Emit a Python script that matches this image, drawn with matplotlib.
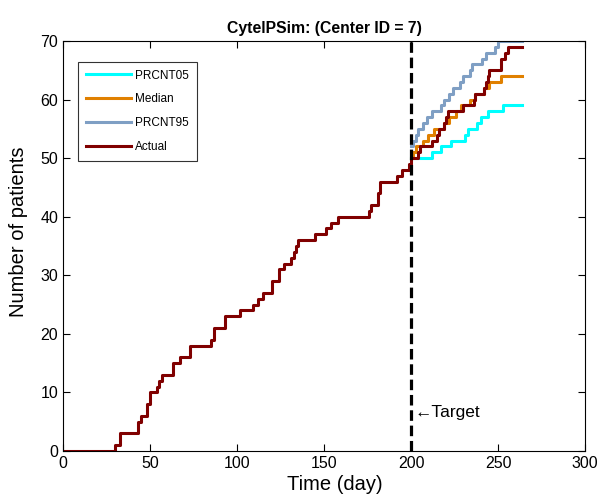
import matplotlib
matplotlib.use("Agg")
import matplotlib.pyplot as plt

plt.rcParams['font.family'] = ['Liberation Sans', 'DejaVu Sans']

# Actual enrollment (step function): days and cumulative patients
actual_days = [0, 30, 33, 43, 45, 48.5, 50, 54, 55, 57, 63, 67, 73, 85, 87, 93,
               102, 109, 112, 115, 120, 124, 127, 131, 133, 134, 135, 145, 151,
               154, 158, 176, 177, 181, 182, 192, 195, 199, 200, 204, 205, 212,
               215, 216, 219, 220, 221, 230, 236, 237, 242, 243, 244, 245, 252,
               254, 256, 264]
actual_vals = [0, 1, 3, 5, 6, 8, 10, 11, 12, 13, 15, 16, 18, 19, 21, 23,
               24, 25, 26, 27, 29, 31, 32, 33, 34, 35, 36, 37, 38,
               39, 40, 41, 42, 44, 46, 47, 48, 49, 50, 51, 52, 53,
               54, 55, 56, 57, 58, 59, 60, 61, 62, 63, 64, 65, 67,
               68, 69, 69]

# Simulated percentiles after target (day 200)
p05_days = [200, 212, 217, 223, 231, 233, 238, 240, 244, 253, 264]
p05_vals = [50, 51, 52, 53, 54, 55, 56, 57, 58, 59, 59]

med_days = [200, 201, 203, 207, 210, 213, 219, 222, 226, 229, 234, 237, 242,
            245, 252, 264]
med_vals = [50, 51, 52, 53, 54, 55, 56, 57, 58, 59, 60, 61, 62, 63, 64, 64]

p95_days = [200, 201, 203, 204, 207, 209, 212, 217, 219, 222, 224, 228, 230,
            234, 235, 241, 243, 248, 250, 264]
p95_vals = [52, 53, 54, 55, 56, 57, 58, 59, 60, 61, 62, 63, 64, 65, 66, 67,
            68, 69, 70, 70]

target_day = 200

fig = plt.figure(figsize=(5.97, 4.97), dpi=100)
ax = fig.add_axes([63/597, 1-451/497, (585-63)/597, (451-41)/497])

lw = 2.2
ax.step(p05_days, p05_vals, where='post', color='#00FFFF', lw=lw, label='PRCNT05')
ax.step(med_days, med_vals, where='post', color='#E08000', lw=lw, label='Median')
ax.step(p95_days, p95_vals, where='post', color='#7F9FC4', lw=lw, label='PRCNT95')
ax.step(actual_days, actual_vals, where='post', color='#800000', lw=lw, label='Actual')

ax.axvline(target_day, color='black', lw=2.3, ls=(0, (3.3, 1.5)))
ax.text(target_day + 2, 6.5, '\u2190Target', fontsize=12.5, va='center', ha='left')

ax.set_xlim(0, 300)
ax.set_ylim(0, 70)
ax.set_xticks(range(0, 301, 50))
ax.set_yticks(range(0, 71, 10))
ax.tick_params(direction='in', top=True, right=True, labelsize=11.5, length=5)
ax.set_xlabel('Time (day)', fontsize=14.5, labelpad=3)
ax.set_ylabel('Number of patients', fontsize=14.5, labelpad=6)
ax.xaxis.set_label_coords(0.521, -0.058)
ax.yaxis.set_label_coords(-0.068, 0.535)
ax.set_title('CytelPSim: (Center ID = 7)', fontsize=11.3, fontweight='bold', pad=6)

leg = ax.legend(loc='upper left', bbox_to_anchor=(0.029, 0.949), fontsize=8.5,
                frameon=True, fancybox=False, edgecolor='black', handlelength=3.8,
                handletextpad=0.4, borderpad=0.65, labelspacing=1.0,
                borderaxespad=0)
leg.get_frame().set_linewidth(0.8)

fig.savefig('out.png', dpi=100)
